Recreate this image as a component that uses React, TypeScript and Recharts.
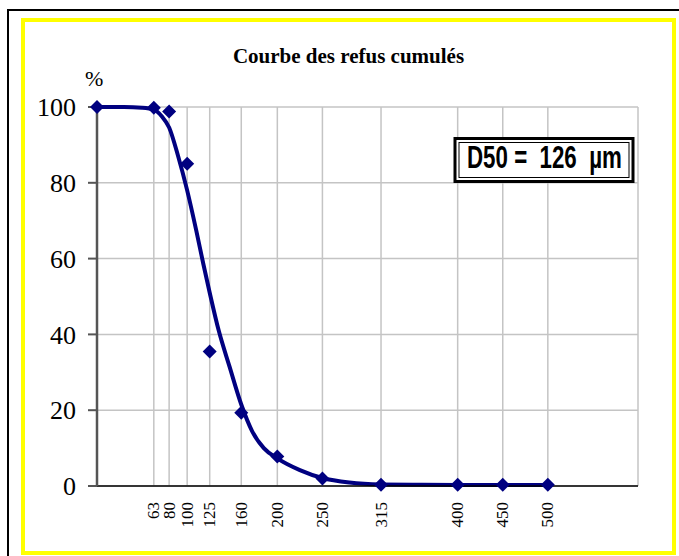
import React from "react";
import {
  ComposedChart,
  Line,
  Scatter,
  XAxis,
  YAxis,
  CartesianGrid,
} from "recharts";

// tamis (µm) et refus cumulés (%)
const sieveSizes = [0, 63, 80, 100, 125, 160, 200, 250, 315, 400, 450, 500];
const refusCumules = [100, 99.8, 98.8, 85, 35.5, 19.3, 7.8, 2, 0.3, 0.3, 0.3, 0.3];

// courbe lissée
const curveSizes = [0, 30, 50, 63, 72, 80, 90, 100, 110, 118, 125, 135, 147, 160, 172, 185, 200, 225, 250, 280, 315, 360, 400, 450, 500];
const curveValues = [100, 100, 99.8, 99.3, 97.5, 94.6, 87, 78, 67.5, 58.5, 51, 41, 31.5, 21.5, 14.5, 10, 7.3, 4.2, 2.1, 0.9, 0.4, 0.3, 0.25, 0.25, 0.25];

const xTicks = [63, 80, 100, 125, 160, 200, 250, 315, 400, 450, 500];
const yTicks = [0, 20, 40, 60, 80, 100];

const NAVY = "#000080";
const SERIF = "'Liberation Serif', 'Times New Roman', serif";

const points = sieveSizes.map((x, i) => ({ x, y: refusCumules[i] }));
const curve = curveSizes.map((x, i) => ({ x, y: curveValues[i] }));

const Diamond = (props: any) => {
  const { cx, cy } = props;
  const r = 7;
  return (
    <polygon
      points={`${cx},${cy - r} ${cx + r},${cy} ${cx},${cy + r} ${cx - r},${cy}`}
      fill={NAVY}
    />
  );
};

const XTick = (props: any) => {
  const { x, y, payload } = props;
  return (
    <text
      transform={`translate(${x},${y + 2}) rotate(-90)`}
      textAnchor="end"
      dominantBaseline="central"
      fontFamily={SERIF}
      fontSize={17}
      fill="#000"
    >
      {payload.value}
    </text>
  );
};

export default function App() {
  return (
    <div
      style={{
        position: "absolute",
        left: 0,
        top: 0,
        width: 679,
        height: 556,
        background: "#fff",
        overflow: "hidden",
      }}
    >
      {/* cadre noir */}
      <div
        style={{
          position: "absolute",
          left: 7,
          top: 9,
          width: 700,
          height: 600,
          borderLeft: "2px solid #000",
          borderTop: "2px solid #000",
        }}
      />
      {/* cadre jaune */}
      <div
        style={{
          position: "absolute",
          left: 21,
          top: 18,
          width: 655,
          height: 537,
          border: "4px solid #ffff00",
          boxSizing: "border-box",
          background: "#fff",
        }}
      />
      <div style={{ position: "absolute", left: 0, top: 0 }}>
        <ComposedChart
          width={679}
          height={556}
          margin={{ top: 107, right: 41, bottom: 10, left: 37 }}
        >
          <CartesianGrid stroke="#c4c4c4" strokeWidth={1.5} />
          <XAxis
            dataKey="x"
            type="number"
            domain={[0, 600]}
            ticks={xTicks}
            interval={0}
            tickLine={false}
            tickMargin={8}
            height={60}
            axisLine={{ stroke: "#000", strokeWidth: 1.5 }}
            tick={<XTick />}
          />
          <YAxis
            dataKey="y"
            type="number"
            domain={[0, 100]}
            ticks={yTicks}
            interval={0}
            width={60}
            tickSize={9}
            tickMargin={12}
            tickLine={{ stroke: "#555", strokeWidth: 2 }}
            axisLine={{ stroke: "#555", strokeWidth: 2.5 }}
            tick={{ fontFamily: SERIF, fontSize: 26, fill: "#000" }}
          />
          <Line
            data={curve}
            dataKey="y"
            type="monotone"
            stroke={NAVY}
            strokeWidth={4}
            dot={false}
            isAnimationActive={false}
          />
          <Scatter
            data={points}
            dataKey="y"
            shape={<Diamond />}
            isAnimationActive={false}
          />
        </ComposedChart>
      </div>
      {/* titre, unité et encadré D50 */}
      <svg
        width={679}
        height={556}
        style={{ position: "absolute", left: 0, top: 0, pointerEvents: "none" }}
      >
        <text
          x={348.5}
          y={63}
          textAnchor="middle"
          fontFamily={SERIF}
          fontWeight="bold"
          fontSize={21}
          fill="#000"
        >
          Courbe des refus cumulés
        </text>
        <text x={85} y={86} fontFamily={SERIF} fontSize={22} fill="#000">
          %
        </text>
        <rect x={455} y={138.5} width={178} height={43} fill="#fff" stroke="#000" strokeWidth={3} />
        <rect x={459} y={142.5} width={170} height={35} fill="none" stroke="#000" strokeWidth={1} />
        <text
          transform="translate(467,168) scale(0.72,1)"
          fontFamily="'Liberation Sans', Arial, sans-serif"
          fontWeight="bold"
          fontSize={31}
          fill="#000"
          style={{ whiteSpace: "pre" }}
        >
          D50 =  126  µm
        </text>
      </svg>
    </div>
  );
}
